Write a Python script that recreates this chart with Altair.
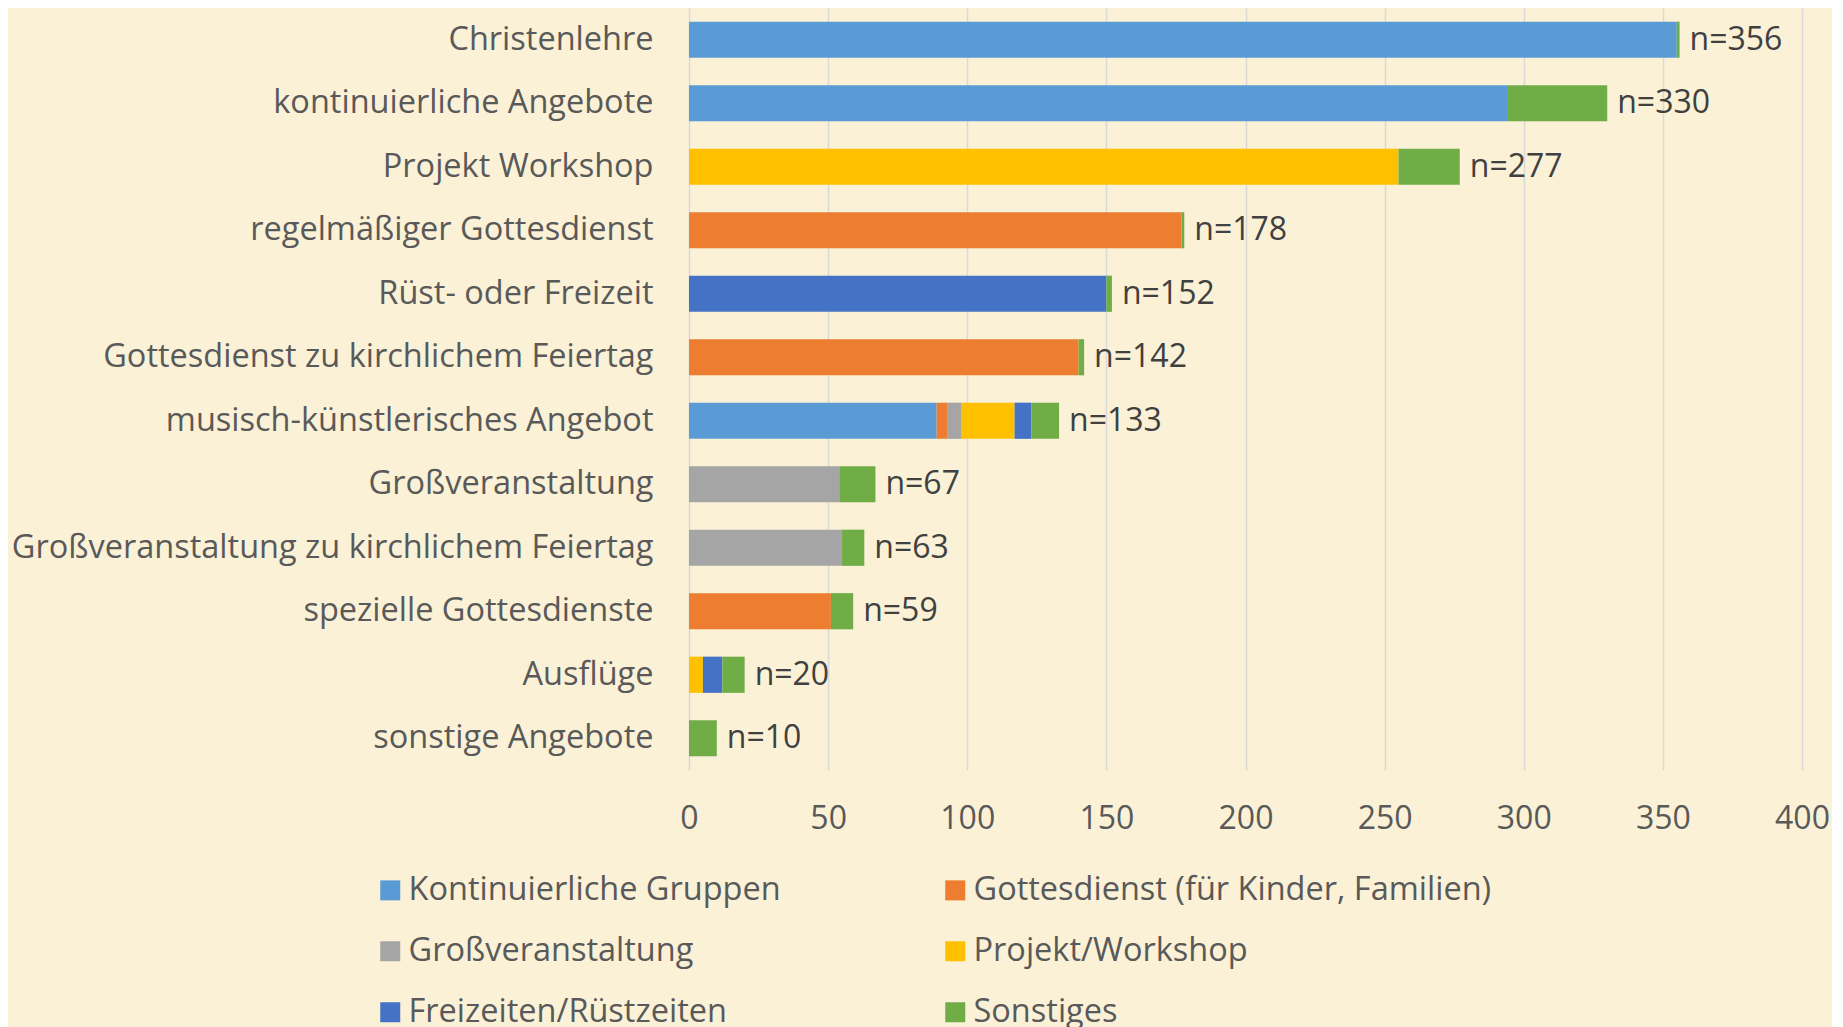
import altair as alt
import pandas as pd

categories = [
    "Christenlehre",
    "kontinuierliche Angebote",
    "Projekt Workshop",
    "regelmäßiger Gottesdienst",
    "Rüst- oder Freizeit",
    "Gottesdienst zu kirchlichem Feiertag",
    "musisch-künstlerisches Angebot",
    "Großveranstaltung",
    "Großveranstaltung zu kirchlichem Feiertag",
    "spezielle Gottesdienste",
    "Ausflüge",
    "sonstige Angebote",
]
series = [
    "Kontinuierliche Gruppen",
    "Gottesdienst (für Kinder, Familien)",
    "Großveranstaltung",
    "Projekt/Workshop",
    "Freizeiten/Rüstzeiten",
    "Sonstiges",
]
colors = ["#5B9BD5", "#ED7D31", "#A5A5A5", "#FFC000", "#4472C4", "#70AD47"]

kontinuierlich = [355, 294, 0, 0, 0, 0, 89, 0, 0, 0, 0, 0]
gottesdienst = [0, 0, 0, 177, 0, 140, 4, 0, 0, 51, 0, 0]
grossveranst = [0, 0, 0, 0, 0, 0, 5, 54, 55, 0, 0, 0]
projekt = [0, 0, 255, 0, 0, 0, 19, 0, 0, 0, 5, 0]
freizeiten = [0, 0, 0, 0, 150, 0, 6, 0, 0, 0, 7, 0]
sonstiges = [1, 36, 22, 1, 2, 2, 10, 13, 8, 8, 8, 10]
n_values = [356, 330, 277, 178, 152, 142, 133, 67, 63, 59, 20, 10]

values = [kontinuierlich, gottesdienst, grossveranst, projekt, freizeiten, sonstiges]
rows = []
for si, (s, vals) in enumerate(zip(series, values)):
    for c, v in zip(categories, vals):
        rows.append({"Angebot": c, "Art": s, "Wert": v, "ord": si})
df = pd.DataFrame(rows)
df_n = pd.DataFrame({"Angebot": categories, "n": n_values,
                     "label": [f"n={v}" for v in n_values]})

# legend is filled column by column: order the domain so rows read like the original
legend_order = [series[0], series[2], series[4], series[1], series[3], series[5]]
legend_colors = [colors[0], colors[2], colors[4], colors[1], colors[3], colors[5]]

FONT = "Open Sans"
FS = 32
BG = "#FAF1D6"
TXT = "#595959"

yenc = alt.Y("Angebot:N", sort=categories, title=None,
             scale=alt.Scale(paddingInner=0.43, paddingOuter=0.215),
             axis=alt.Axis(domain=False, ticks=False, labelPadding=36,
                           labelFontSize=32.5, labelColor=TXT,
                           labelFont=FONT, labelLimit=800))

bars = alt.Chart(df).mark_bar().encode(
    y=yenc,
    x=alt.X("sum(Wert):Q", title=None,
            scale=alt.Scale(domain=[0, 400]),
            axis=alt.Axis(values=[0, 50, 100, 150, 200, 250, 300, 350, 400],
                          domain=False, ticks=False, grid=True,
                          gridColor="#D9D9D9", gridWidth=1.5,
                          labelFlush=False,
                          labelFontSize=FS, labelColor=TXT,
                          labelFont=FONT, labelPadding=33)),
    color=alt.Color("Art:N",
                    scale=alt.Scale(domain=legend_order, range=legend_colors),
                    legend=alt.Legend(title=None, orient="none",
                                      legendX=-315, legendY=866,
                                      columns=2, columnPadding=158,
                                      rowPadding=28,
                                      symbolType="square", symbolSize=400,
                                      symbolStrokeWidth=0,
                                      labelFontSize=32.5, labelColor=TXT,
                                      labelFont=FONT, labelLimit=700,
                                      labelOffset=2, padding=0)),
    order=alt.Order("ord:Q", sort="ascending"),
)

labels = alt.Chart(df_n).mark_text(
    align="left", baseline="middle", dx=10, fontSize=FS,
    font=FONT, color="#404040"
).encode(
    y=alt.Y("Angebot:N", sort=categories),
    x=alt.X("n:Q"),
    text="label:N",
)

chart = alt.layer(bars, labels).properties(
    width=1113, height=762,
    background=BG,
    padding={"left": 681, "top": 0, "right": 30, "bottom": 257},
    autosize=alt.AutoSizeParams(type="none"),
).configure_view(stroke=None)

chart.save("out.html", embed_options={"renderer": "svg", "actions": False})
